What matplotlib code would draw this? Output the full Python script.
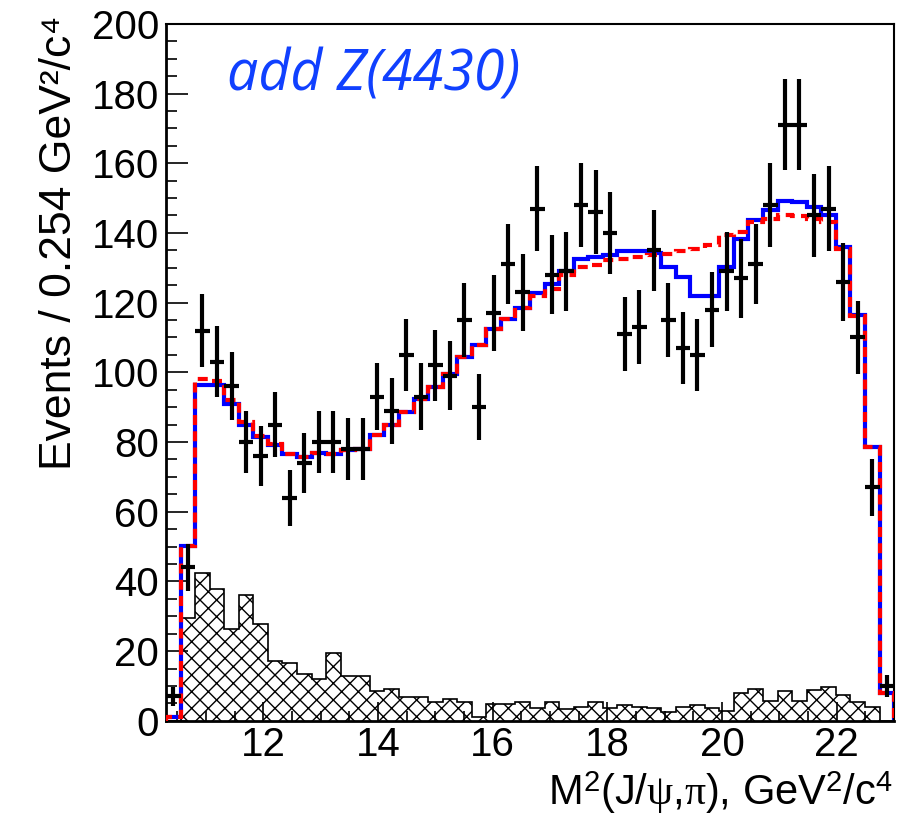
import numpy as np
import matplotlib
matplotlib.use('Agg')
import matplotlib.pyplot as plt
from matplotlib.ticker import MultipleLocator

plt.rcParams['font.family'] = ['Liberation Sans', 'DejaVu Sans']
plt.rcParams['mathtext.fontset'] = 'custom'
plt.rcParams['mathtext.rm'] = 'Liberation Sans'
plt.rcParams['mathtext.it'] = 'Liberation Serif'
plt.rcParams['hatch.linewidth'] = 1.0

# binning: 50 bins of 0.254 GeV^2/c^4
x_lo = 10.3
bin_w = 0.254
n_bins = 50

# data points (events per bin)
data = [7, 44, 112, 103, 96, 80, 76, 85, 64, 74,
        80, 80, 78, 78, 93, 89, 105, 93, 102, 99,
        115, 90, 117, 131, 123, 147, 128, 129, 148, 146,
        140, 111, 113, 135, 115, 107, 105, 118, 129, 127,
        131, 148, 171, 171, 145, 147, 126, 110, 67, 10]

# fit with Z(4430) (blue solid)
fit_z = [1.2, 50.3, 96.4, 96.4, 90.9, 84.9, 81.3, 79.1, 76.5, 75.8,
         76.8, 76.6, 77.7, 78.1, 82.0, 84.9, 88.7, 92.3, 95.7, 99.5,
         104.3, 107.7, 112.5, 115.3, 118.5, 122.8, 125.4, 129.0, 132.4, 133.0,
         133.6, 134.7, 134.7, 134.3, 130.2, 127.3, 121.9, 121.9, 130.2, 138.2,
         143.6, 146.7, 149.2, 148.9, 147.5, 145.1, 136.0, 116.5, 78.7, 8.0]

# fit without Z (red dashed)
fit_noz = [1.2, 50.3, 98.0, 97.5, 92.0, 85.8, 81.8, 79.5, 76.5, 75.8,
           76.8, 76.6, 77.7, 78.1, 82.0, 84.9, 88.7, 92.3, 95.7, 99.5,
           104.3, 107.7, 112.5, 115.3, 118.5, 122.0, 124.0, 127.8, 130.2, 130.7,
           132.1, 132.6, 133.0, 133.6, 134.0, 134.7, 135.5, 136.4, 139.3, 140.3,
           143.1, 144.1, 145.1, 144.9, 144.1, 143.1, 135.5, 116.3, 78.7, 8.0]

# background (hatched)
bkg = [0, 29.5, 42.3, 37.9, 26.4, 36.2, 27.9, 17.1, 16.6, 13.4,
       12.1, 19.5, 12.8, 12.8, 8.7, 9.1, 6.7, 6.7, 5.3, 6.2,
       5.3, 1.2, 4.8, 4.8, 5.3, 3.8, 5.3, 3.4, 4.1, 5.3,
       3.6, 4.6, 4.1, 3.6, 2.4, 4.1, 4.6, 3.6, 2.9, 8.0,
       9.2, 5.8, 8.7, 5.8, 8.9, 9.7, 7.3, 5.3, 4.1, 0]

edges = x_lo + bin_w*np.arange(n_bins+1)
centers = 0.5*(edges[:-1]+edges[1:])
data = np.array(data, dtype=float)

fig = plt.figure(figsize=(9.17, 8.21), dpi=100)
ax = fig.add_axes([0.181, 0.122, 0.794, 0.849])

ax.stairs(bkg, edges, fill=True, hatch='xx', facecolor='white',
          edgecolor='black', linewidth=1.2, zorder=1)
ax.stairs(fit_z, edges, color='blue', linewidth=3, zorder=2)
ax.stairs(fit_noz, edges, color='red', linewidth=3,
          linestyle=(0, (2.4, 1.5)), zorder=3)
ax.errorbar(centers, data, yerr=np.sqrt(data), xerr=bin_w/2, fmt='none',
            ecolor='black', elinewidth=3, capsize=0, zorder=4)

ax.set_xlim(x_lo, edges[-1])
ax.set_ylim(0, 200)

ax.xaxis.set_major_locator(MultipleLocator(2))
ax.xaxis.set_minor_locator(MultipleLocator(0.5))
ax.yaxis.set_major_locator(MultipleLocator(20))
ax.yaxis.set_minor_locator(MultipleLocator(5))
ax.tick_params(which='both', direction='in', top=False, right=False,
               labelsize=29, width=1.2)
ax.tick_params(axis='y', which='major', length=16, pad=5)
ax.tick_params(axis='y', which='minor', length=8)
ax.tick_params(axis='x', which='major', length=14, pad=4)
ax.tick_params(axis='x', which='minor', length=7)
for side in ['left', 'bottom']:
    ax.spines[side].set_linewidth(2)
for side in ['top', 'right']:
    ax.spines[side].set_linewidth(1.5)

# axis titles
fig.text(71/917, 1-16/821, 'Events / 0.254 GeV²/c⁴', rotation=90,
         rotation_mode='anchor', ha='right', va='baseline', fontsize=32)
fig.text(893/917, 1-805/821, r'M$^2$(J/$\psi$,$\pi$), GeV$^2$/c$^4$',
         ha='right', va='baseline', fontsize=30)

fig.text(227/917, 1-90/821, 'add Z(4430)', ha='left', va='baseline',
         fontsize=40, style='italic', color='#1040ff',
         family=['Open Sans', 'DejaVu Sans'])

plt.savefig('out.png', dpi=100)
